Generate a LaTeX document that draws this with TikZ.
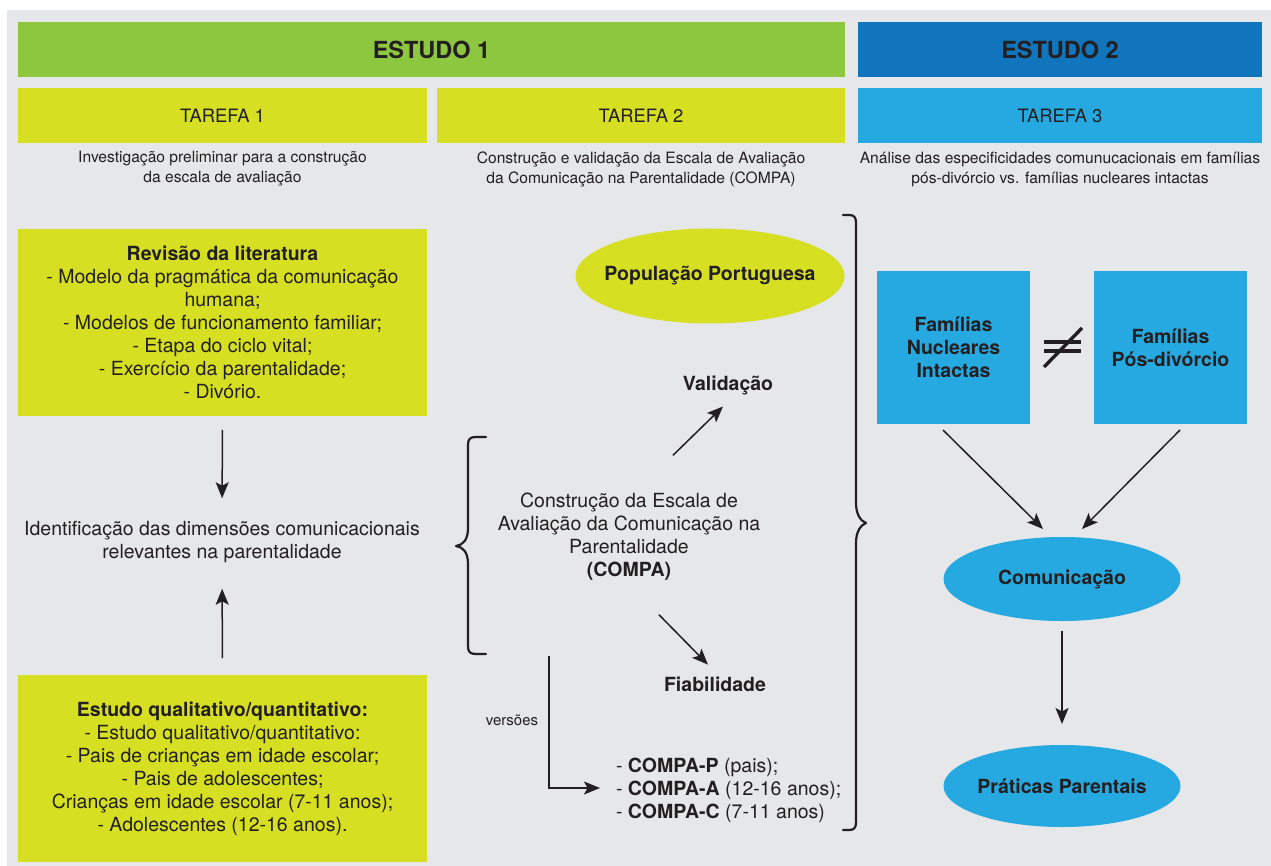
\documentclass[tikz,border=0pt]{standalone}
\usepackage{fontspec}
\setmainfont{TeX Gyre Heros}
\usetikzlibrary{arrows.meta,calc,shapes.geometric}

\definecolor{panel}{HTML}{E6E7E8}
\definecolor{leaf}{HTML}{8DC63F}
\definecolor{lime}{HTML}{D7DF23}
\definecolor{deepblue}{HTML}{1075BC}
\definecolor{sky}{HTML}{25A9E0}
\definecolor{ink}{HTML}{231F20}

\newcommand\headfont{\fontsize{23.5}{27}\selectfont\bfseries}
\newcommand\taskfont{\fontsize{18.4}{22}\selectfont}
\newcommand\notefont{\fontsize{15.6}{20}\selectfont}
\newcommand\bodyfont{\fontsize{19.5}{23}\selectfont}

\begin{document}
\begin{tikzpicture}[x=1pt,y=-1pt,
  txt/.style={text=ink, inner sep=0pt, outer sep=0pt},
  band/.style={txt, anchor=north west, minimum height=55pt},
  panelbox/.style={txt, anchor=north west, fill=lime, minimum width=409pt,
    minimum height=187pt, align=center, font=\bodyfont},
  famblock/.style={txt, anchor=north west, fill=sky, minimum width=153pt,
    minimum height=153pt, align=center, font=\bodyfont\bfseries},
  oval/.style={ellipse, txt, inner xsep=-40pt, font=\bodyfont\bfseries},
  arrow/.style={draw=ink, line width=1.5pt, -{Stealth[length=16pt,width=13pt,inset=3.5pt]}},
  brace/.style={draw=ink, line width=2.2pt, line cap=round, line join=round},
  neqbar/.style={draw=ink, line width=3.4pt},
]
\useasboundingbox (0,0) rectangle (1271,866);
\fill[white] (0,0) rectangle (1271,866);
\fill[panel] (7,10) rectangle (1271,866);

% header bands
\node[band, fill=leaf, minimum width=827pt, font=\headfont] (est1) at (18,22) {ESTUDO 1};
\node[band, fill=deepblue, minimum width=404pt, font=\headfont] (est2) at (858,22) {ESTUDO 2};
\node[band, fill=lime, minimum width=409pt, font=\taskfont] (t1) at (18,88) {TAREFA 1};
\node[band, fill=lime, minimum width=408pt, font=\taskfont] (t2) at (437,88) {TAREFA 2};
\node[band, fill=sky, minimum width=404pt, font=\taskfont] (t3) at (858,88) {TAREFA 3};

% task descriptions
\node[txt, font=\notefont, align=center] (d1) at (222.5,169)
  {Investigação preliminar para a construção\\da escala de avaliação};
\node[txt, font=\notefont, align=center] (d2) at (641,169)
  {Construção e validação da Escala de Avaliação\\da Comunicação na Parentalidade (COMPA)};
\node[txt, font=\notefont, align=center] (d3) at (1060,169)
  {Análise das especificidades comunucacionais em famílias\\pós-divórcio vs. famílias nucleares intactas};

% task 1
\node[panelbox] (rev) at (18,229)
  {\textbf{Revisão da literatura}\\- Modelo da pragmática da comunicação\\humana;\\- Modelos de funcionamento familiar;\\- Etapa do ciclo vital;\\- Exercício da parentalidade;\\- Divório.};
\node[txt, font=\bodyfont, align=center] (ident) at (222,542)
  {Identificação das dimensões comunicacionais\\relevantes na parentalidade};
\node[panelbox] (quali) at (18,675)
  {\textbf{Estudo qualitativo/quantitativo:}\\- Estudo qualitativo/quantitativo:\\- Pais de crianças em idade escolar;\\- Pais de adolescentes;\\Crianças em idade escolar (7-11 anos);\\- Adolescentes (12-16 anos).};
\draw[arrow, shorten <=14pt, shorten >=23pt] (rev.south) -- (ident.north);
\draw[arrow, shorten <=17pt, shorten >=26pt] (quali.north) -- (ident.south);

% task 2
\node[oval, fill=lime, minimum width=269pt, minimum height=95pt] (pop) at (710,276) {População Portuguesa};
\node[txt, font=\bodyfont, align=center] (cons) at (629,537)
  {Construção da Escala de\\Avaliação da Comunicação na\\Parentalidade\\\textbf{(COMPA)}};
\node[txt, font=\bodyfont\bfseries] (val) at (728,385) {Validação};
\node[txt, font=\bodyfont\bfseries] (fia) at (715,684) {Fiabilidade};
\node[txt, font=\fontsize{15}{18}\selectfont] (vers) at (512,720) {versões};
\node[txt, font=\bodyfont, align=left, anchor=west] (list) at (616,790.5)
  {- \textbf{COMPA-P} (pais);\\- \textbf{COMPA-A} (12-16 anos);\\- \textbf{COMPA-C} (7-11 anos)};
\draw[arrow] ($(cons.north)+(44,-38)$) -- ($(val.south)+(-5,12)$);
\draw[arrow] ($(cons.south)+(30,34)$) -- ($(fia.north)+(-7,-12)$);
\draw[arrow] ($(list.west)+(-67,-134.5)$) |- ($(list.west)+(-16,-2.5)$);

% braces around the scale construction and around task 2
\draw[brace] (486,437) -- (476,437) .. controls (470,437) and (468,439) .. (468,445)
  -- (468,528) .. controls (468,540) and (463,545) .. (456,546)
  .. controls (463,547) and (468,552) .. (468,564)
  -- (468,646) .. controls (468,652) and (470,654) .. (476,654) -- (486,654);
\draw[brace] (843,215) -- (849,215) .. controls (854,215) and (856,217) .. (856,223)
  -- (856,503) .. controls (856,515) and (861,521) .. (866,523)
  .. controls (861,525) and (856,531) .. (856,543)
  -- (856,822) .. controls (856,828) and (854,830) .. (849,830) -- (843,830);

% task 3
\node[famblock] (fam1) at (877,271) {Famílias\\Nucleares\\Intactas};
\node[famblock] (fam2) at (1094,271) {Famílias\\Pós-divórcio};
\draw[neqbar] (1044,342) -- (1081,342);
\draw[neqbar] (1044,351) -- (1081,351);
\draw[neqbar] (1044,367) -- (1082,328);
\node[oval, fill=sky, minimum width=237pt, minimum height=84pt] (com) at (1062,579) {Comunicação};
\node[oval, fill=sky, minimum width=237pt, minimum height=82pt] (prat) at (1062,786) {Práticas Parentais};
\draw[arrow] ($(fam1.south)+(-10.5,6)$) -- ($(com.north)+(-19,-8)$);
\draw[arrow] ($(fam2.south)+(9.5,6)$) -- ($(com.north)+(20,-8)$);
\draw[arrow, shorten <=10pt, shorten >=21pt] (com.south) -- (prat.north);
\end{tikzpicture}
\end{document}
